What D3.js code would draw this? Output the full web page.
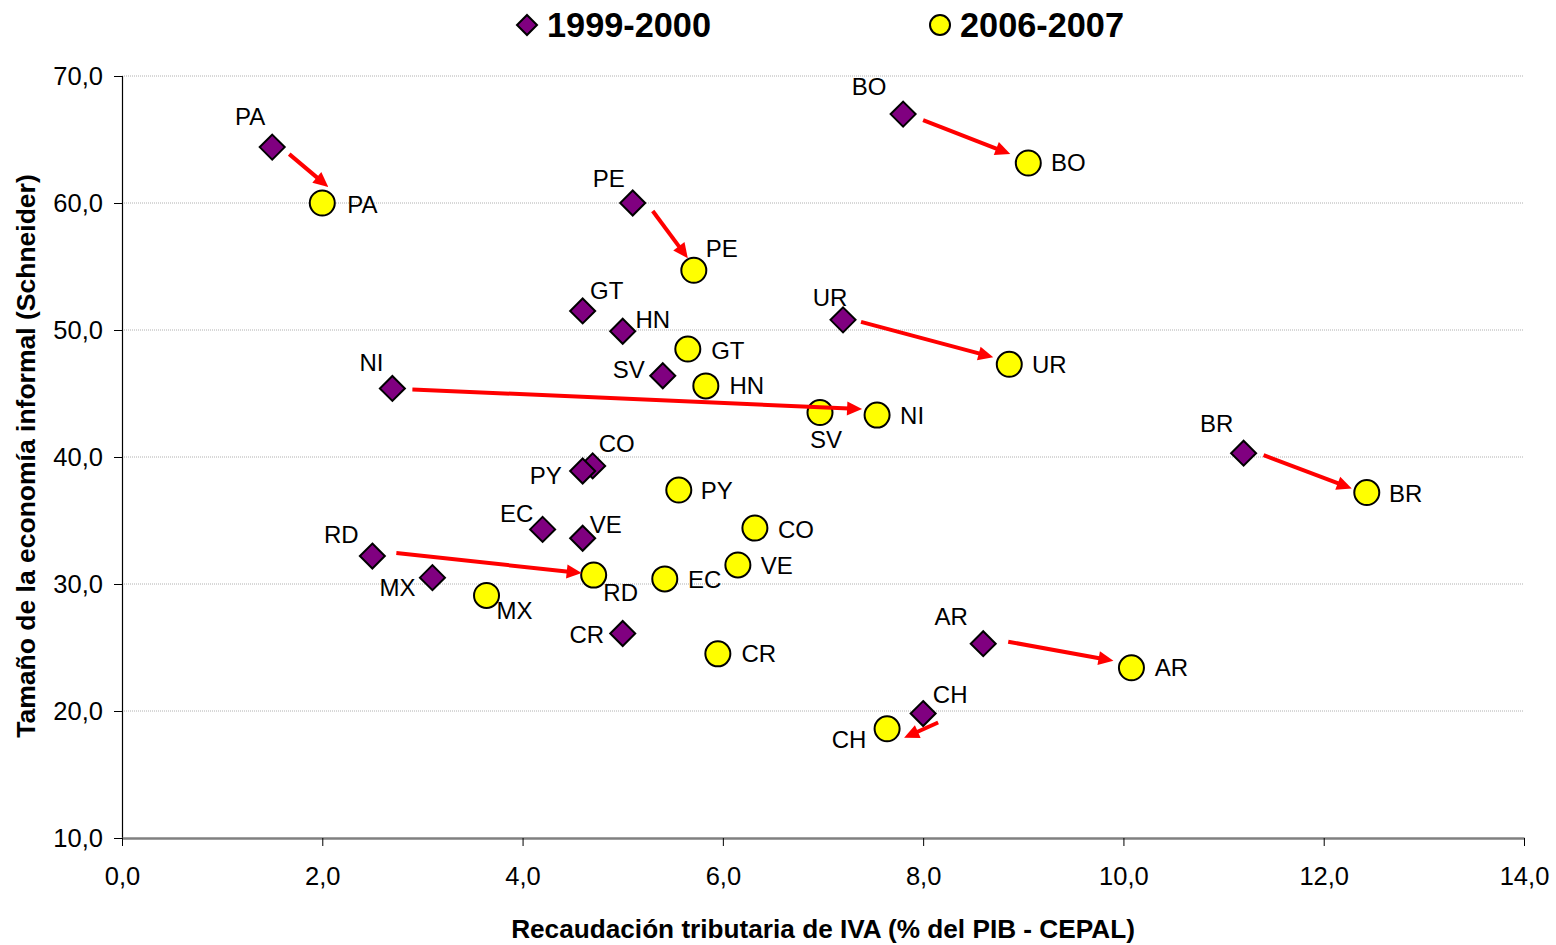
<!DOCTYPE html>
<html><head><meta charset="utf-8">
<script src="https://cdn.jsdelivr.net/npm/d3@7"></script>
<style>
body{margin:0;background:#fff;}
svg{font-family:"Liberation Sans",Arial,sans-serif;}
</style></head>
<body><svg id="c" width="1556" height="945"></svg>
<script>
// ---- data ----
const countries = ["PA","PE","BO","GT","HN","UR","SV","NI","BR","CO","PY","EC","VE","RD","MX","CR","AR","CH"];
const iva1999  = [1.5, 5.1, 7.8, 4.6, 5.0, 7.2, 5.4, 2.7, 11.2, 4.7, 4.6, 4.2, 4.6, 2.5, 3.1, 5.0, 8.6, 8.0];
const inf1999  = [64.4, 60.0, 67.0, 51.5, 49.9, 50.8, 46.4, 45.4, 40.3, 39.3, 38.9, 34.3, 33.6, 32.2, 30.5, 26.1, 25.3, 19.8];
const iva2006  = [2.0, 5.71, 9.05, 5.65, 5.83, 8.86, 6.97, 7.54, 12.43, 6.32, 5.56, 5.42, 6.15, 4.71, 3.64, 5.95, 10.08, 7.64];
const inf2006  = [60.0, 54.7, 63.15, 48.5, 45.6, 47.3, 43.5, 43.3, 37.2, 34.4, 37.4, 30.4, 31.5, 30.7, 29.1, 24.5, 23.4, 18.6];
const arrowCountries = ["PA","PE","BO","UR","NI","BR","RD","AR","CH"];
const seriesNames = ["1999-2000","2006-2007"];
const xTicks = [0,2,4,6,8,10,12,14];
const yTicks = [10,20,30,40,50,60,70];
const xTitle = "Recaudación tributaria de IVA (% del PIB - CEPAL)";
const yTitle = "Tamaño de la economía informal (Schneider)";

// ---- label / arrow placement (pixels, layout only) ----
const lab1999 = {PA:[-22,-31],PE:[-24,-25],BO:[-34,-28],GT:[24,-20],HN:[30,-12],UR:[-13,-22],SV:[-34,-6],NI:[-21,-26],
  BR:[-27,-30],CO:[24,-22],PY:[-37,5],EC:[-26,-16],VE:[23,-14],RD:[-31,-22],MX:[-35,10],CR:[-36,1],AR:[-32,-27],CH:[27,-19]};
const lab2006 = {PA:[40,1],PE:[28,-22],BO:[40,0],GT:[40,1],HN:[41,0],UR:[40,0],SV:[6,27],NI:[35,0],BR:[39,1],CO:[41,1],
  PY:[38,0],EC:[40,1],VE:[39,1],RD:[27,17],MX:[28,15],CR:[41,0],AR:[40,0],CH:[-38,11]};
// arrow start offset from the 1999 marker, arrow tip offset from the 2006 marker
const arrowOff = {PA:[[17,7],[6,-16]], PE:[[20,8],[-6,-12]], BO:[[20,6],[-18,-9]], UR:[[18,2],[-16,-7]],
  NI:[[20,1],[-15,-6]], BR:[[20,2],[-15,-4]], RD:[[24,-3],[-12,-2]], AR:[[25,-2],[-18,-7]], CH:[[15,9],[17,9]]};

const svg = d3.select("#c");
const L=122, R=1524, T=76, B=838;
const x = d3.scaleLinear().domain([0,14]).range([L,R]);
const y = d3.scaleLinear().domain([10,70]).range([B,T]);
const fmt = d => d.toFixed(1).replace(".", ",");

// gridlines
svg.append("g").selectAll("line").data(yTicks.filter(d=>d>10)).join("line")
  .attr("x1",L).attr("x2",R).attr("y1",d=>y(d)).attr("y2",d=>y(d))
  .attr("stroke","#b0b0b0").attr("stroke-width",1).attr("stroke-dasharray","1,1");

// y axis
const gy = svg.append("g").attr("transform",`translate(${L},0)`)
  .call(d3.axisLeft(y).tickValues(yTicks).tickFormat(fmt).tickSize(8).tickPadding(11));
gy.select(".domain").attr("stroke","#000").attr("stroke-width",1.2);
gy.selectAll(".tick line").attr("stroke","#000");
gy.selectAll("text").attr("font-size",25.5).attr("fill","#000").attr("font-family","Liberation Sans, Arial");

// x axis
const gx = svg.append("g").attr("transform",`translate(0,${B})`)
  .call(d3.axisBottom(x).tickValues(xTicks).tickFormat(fmt).tickSize(8).tickSizeOuter(0).tickPadding(21));
gx.select(".domain").attr("stroke","#808080").attr("stroke-width",2.5);
gx.selectAll(".tick line").attr("stroke","#000");
gx.selectAll("text").attr("font-size",25.5).attr("fill","#000").attr("font-family","Liberation Sans, Arial");

// axis titles
svg.append("text").attr("x",(L+R)/2).attr("y",938).attr("text-anchor","middle")
  .attr("font-size",26.2).attr("font-weight","bold").text(xTitle);
svg.append("text").attr("transform",`translate(35,${(T+B)/2 - 1}) rotate(-90)`).attr("text-anchor","middle")
  .attr("font-size",26.5).attr("font-weight","bold").text(yTitle);

const diamond = s => `M0,${-s}L${s},0L0,${s}L${-s},0Z`;

// markers
const data = countries.map((c,i)=>({c, x1:iva1999[i], y1:inf1999[i], x2:iva2006[i], y2:inf2006[i]}));
const order1999 = data.slice().sort((a,b)=> (a.c==="PY") - (b.c==="PY"));
svg.append("g").selectAll("path").data(order1999).join("path")
  .attr("d",diamond(12.5)).attr("transform",d=>`translate(${x(d.x1)},${y(d.y1)})`)
  .attr("fill","#800080").attr("stroke","#000").attr("stroke-width",2);
svg.append("g").selectAll("circle").data(data).join("circle")
  .attr("cx",d=>x(d.x2)).attr("cy",d=>y(d.y2)).attr("r",12.5)
  .attr("fill","#ffff00").attr("stroke","#000").attr("stroke-width",2);

// arrows
const ag = svg.append("g");
data.filter(d=>arrowCountries.includes(d.c)).forEach(d=>{
  const o = arrowOff[d.c];
  const sx=x(d.x1)+o[0][0], sy=y(d.y1)+o[0][1], tx=x(d.x2)+o[1][0], ty=y(d.y2)+o[1][1];
  const dx=tx-sx, dy=ty-sy, len=Math.hypot(dx,dy), ux=dx/len, uy=dy/len;
  const head=15, hw=7;
  const bx=tx-ux*head, by=ty-uy*head;
  ag.append("line").attr("x1",sx).attr("y1",sy).attr("x2",bx+ux*2).attr("y2",by+uy*2)
    .attr("stroke","#ff0000").attr("stroke-width",4);
  ag.append("path").attr("d",`M${tx},${ty}L${bx-uy*hw},${by+ux*hw}L${bx+uy*hw},${by-ux*hw}Z`).attr("fill","#ff0000");
});

// labels
const lg = svg.append("g").attr("font-size",24).attr("fill","#000");
data.forEach(d=>{
  const o1=lab1999[d.c], o2=lab2006[d.c];
  lg.append("text").attr("x",x(d.x1)+o1[0]).attr("y",y(d.y1)+o1[1]).attr("text-anchor","middle")
    .attr("dominant-baseline","central").text(d.c);
  lg.append("text").attr("x",x(d.x2)+o2[0]).attr("y",y(d.y2)+o2[1]).attr("text-anchor","middle")
    .attr("dominant-baseline","central").text(d.c);
});

// legend
const leg = svg.append("g");
leg.append("path").attr("d",diamond(10)).attr("transform","translate(527,25)")
  .attr("fill","#800080").attr("stroke","#000").attr("stroke-width",2);
leg.append("text").attr("x",547).attr("y",37).attr("font-size",34.3).attr("font-weight","bold").text(seriesNames[0]);
leg.append("circle").attr("cx",940).attr("cy",25).attr("r",10)
  .attr("fill","#ffff00").attr("stroke","#000").attr("stroke-width",2);
leg.append("text").attr("x",960).attr("y",37).attr("font-size",34.3).attr("font-weight","bold").text(seriesNames[1]);
</script></body></html>
